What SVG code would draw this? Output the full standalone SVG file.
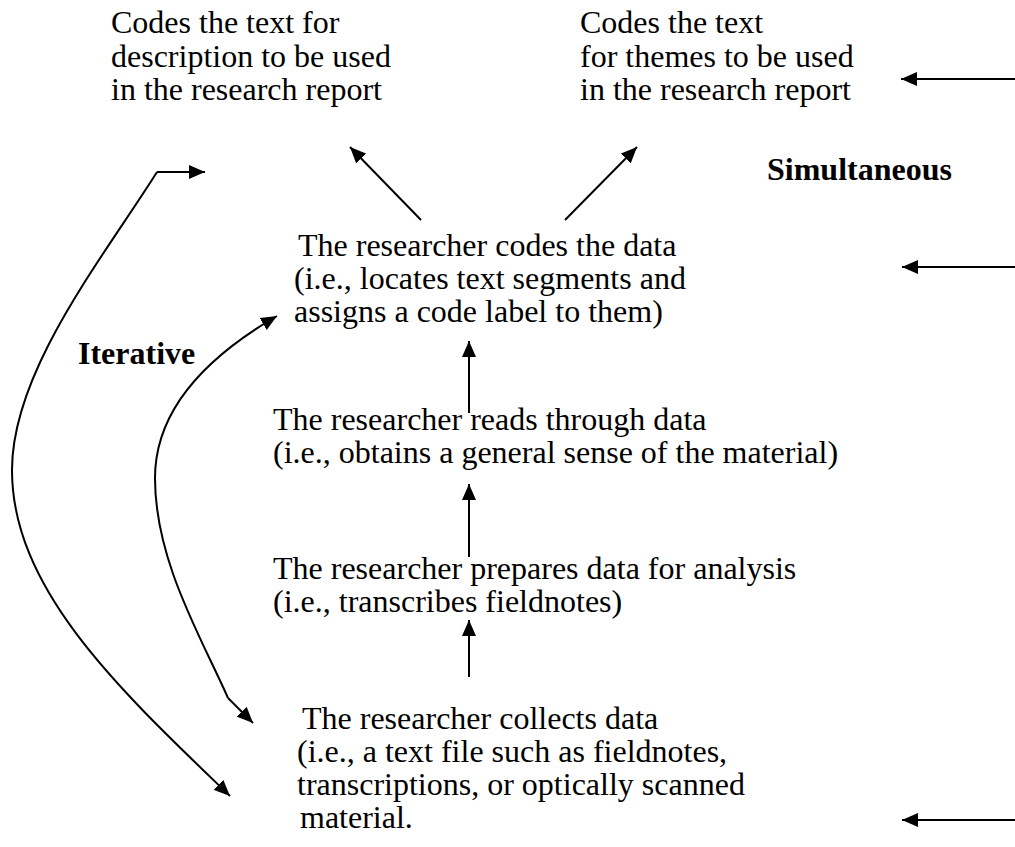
<svg xmlns="http://www.w3.org/2000/svg" width="1015" height="847" viewBox="0 0 1015 847">
  <style>
    text { font-family: 'Liberation Serif', 'Times New Roman', Times, serif; font-size: 32px; fill: #000; }
    .b { font-weight: bold; }
    .ln { fill: none; stroke: #000; stroke-width: 2; }
  </style>
  <defs>
    <marker id="ah" markerUnits="userSpaceOnUse" markerWidth="18" markerHeight="14" refX="16" refY="7" orient="auto">
      <path d="M0,0 L16,7 L0,14 Z" fill="#000"/>
    </marker>
  </defs>

  <rect width="1015" height="847" fill="#fff"/>

  <g id="node-description">
    <text x="111" y="33">Codes the text for</text>
    <text x="111" y="67">description to be used</text>
    <text x="111" y="100">in the research report</text>
  </g>
  <g id="node-themes">
    <text x="580" y="33">Codes the text</text>
    <text x="580" y="67">for themes to be used</text>
    <text x="580" y="100">in the research report</text>
  </g>
  <g id="label-simultaneous">
    <text class="b" x="767" y="180">Simultaneous</text>
  </g>
  <g id="node-codes">
    <text x="298" y="256">The researcher codes the data</text>
    <text x="294" y="289">(i.e., locates text segments and</text>
    <text x="294" y="322">assigns a code label to them)</text>
  </g>
  <g id="label-iterative">
    <text class="b" x="78" y="364">Iterative</text>
  </g>
  <g id="node-reads">
    <text x="273" y="430">The researcher reads through data</text>
    <text x="273" y="463">(i.e., obtains a general sense of the material)</text>
  </g>
  <g id="node-prepares">
    <text x="273" y="579">The researcher prepares data for analysis</text>
    <text x="273" y="612">(i.e., transcribes fieldnotes)</text>
  </g>
  <g id="node-collects">
    <text x="302" y="729">The researcher collects data</text>
    <text x="297" y="762">(i.e., a text file such as fieldnotes,</text>
    <text x="297" y="795">transcriptions, or optically scanned</text>
    <text x="300" y="828">material.</text>
  </g>

  <g id="connectors">
    <!-- upward flow -->
    <line class="ln" x1="469" y1="413" x2="469" y2="341" marker-end="url(#ah)"/>
    <line class="ln" x1="469" y1="557" x2="469" y2="484" marker-end="url(#ah)"/>
    <line class="ln" x1="469" y1="677" x2="469" y2="620" marker-end="url(#ah)"/>
    <!-- coding branches -->
    <line class="ln" x1="421" y1="220" x2="350" y2="147" marker-end="url(#ah)"/>
    <line class="ln" x1="565" y1="220" x2="637" y2="147" marker-end="url(#ah)"/>
    <!-- simultaneous arrows on the right -->
    <line class="ln" x1="1015" y1="79" x2="901" y2="79" marker-end="url(#ah)"/>
    <line class="ln" x1="1015" y1="267" x2="902" y2="267" marker-end="url(#ah)"/>
    <line class="ln" x1="1015" y1="820" x2="902" y2="820" marker-end="url(#ah)"/>
    <!-- iterative loops -->
    <line class="ln" x1="157" y1="172" x2="205" y2="172" marker-end="url(#ah)"/>
    <path class="ln" d="M157,172 C105,255 12,370 12,470 C12,590 120,690 230,796" marker-end="url(#ah)"/>
    <path class="ln" d="M228,698 C200,635 155,560 155,478 C155,405 215,352 277,316" marker-end="url(#ah)"/>
    <line class="ln" x1="228" y1="698" x2="253" y2="723" marker-end="url(#ah)"/>
  </g>
</svg>
